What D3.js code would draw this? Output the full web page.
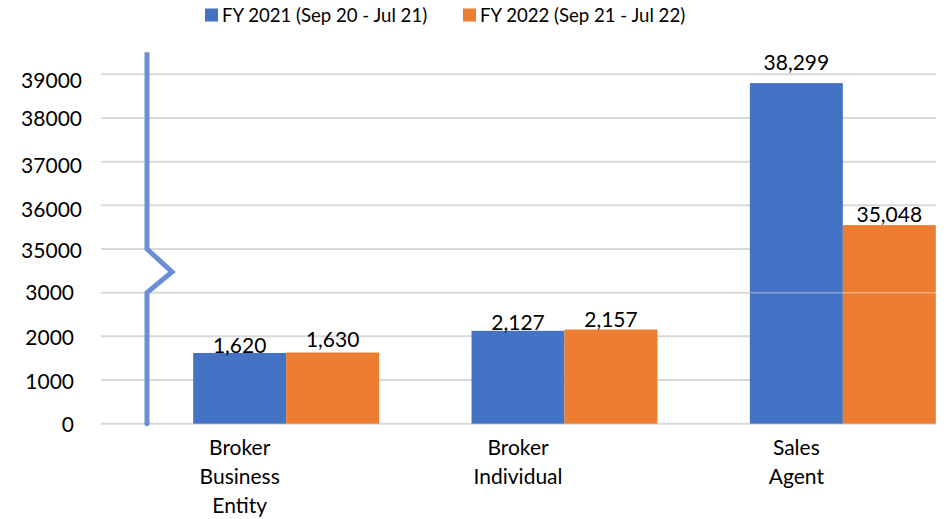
<!DOCTYPE html>
<html>
<head>
<meta charset="utf-8">
<script src="https://cdn.jsdelivr.net/npm/d3@7"></script>
<style>
  html, body { margin: 0; padding: 0; background: #fff; }
  svg { display: block; }
  text { font-family: Lato, "Open Sans", sans-serif; fill: #000; }
</style>
</head>
<body>
<svg id="chart" width="948" height="519"></svg>
<script>
// ---- data ----
const categories = ["Broker Business Entity", "Broker Individual", "Sales Agent"];
const categoryLines = [["Broker", "Business", "Entity"], ["Broker", "Individual"], ["Sales", "Agent"]];
const seriesNames = ["FY 2021 (Sep 20 - Jul 21)", "FY 2022 (Sep 21 - Jul 22)"];
const fy2021 = [1620, 2127, 38299];
const fy2022 = [1630, 2157, 35048];
const tickLabels = ["0", "1000", "2000", "3000", "35000", "36000", "37000", "38000", "39000"];
// broken axis: lower segment 0..3000, upper segment resumes above the break
const lowerMax = 3000;
const upperStart = 33500;
const upperMax = 39500;

// ---- layout ----
const colors = ["#4472C4", "#ED7D31"];
const svg = d3.select("#chart");
const yBase = 423.7, step = 43.67;
const gridX0 = 101, gridX1 = 936;
const axisX = 147;

const yIdx = d3.scaleLinear().domain([0, tickLabels.length - 1])
  .range([yBase, yBase - step * (tickLabels.length - 1)]);
const y = d3.scaleLinear()
  .domain([0, lowerMax, upperStart, upperMax])
  .range([yBase, yIdx(3), yIdx(3), yIdx(3) - (upperMax - upperStart) * step / 1000]);

const x0 = d3.scaleBand().domain(categories).range([147, 982])
  .paddingInner(0.332).paddingOuter(0.166);
const x1 = d3.scaleBand().domain([0, 1]).range([0, x0.bandwidth()]);

// gridlines
svg.append("g").selectAll("line").data(tickLabels).join("line")
  .attr("x1", gridX0).attr("x2", gridX1)
  .attr("y1", (d, i) => yIdx(i)).attr("y2", (d, i) => yIdx(i))
  .attr("stroke", "#d9d9d9").attr("stroke-width", 2);

// tick labels
const tickNudge = [1, 1, 1, 0, 1, 4, 4, 0, 6];
svg.append("g").selectAll("text").data(tickLabels).join("text")
  .attr("x", (d, i) => i >= 4 ? 82 : 74)
  .attr("y", (d, i) => yIdx(i) + tickNudge[i])
  .attr("dy", "0.36em")
  .attr("text-anchor", "end")
  .attr("font-size", 21)
  .text(d => d);

// bars
const rows = categories.map((c, i) => ({ c, vals: [fy2021[i], fy2022[i]] }));
const labelLift = { "0|0": 0, "0|1": 1, "0|2": 13, "1|0": 6, "1|1": 3, "1|2": 3 };
const g = svg.append("g");
rows.forEach(r => {
  r.vals.forEach((v, s) => {
    const bx = x0(r.c) + x1(s);
    g.append("rect")
      .attr("x", bx).attr("y", y(v))
      .attr("width", x1.bandwidth()).attr("height", y(0) - y(v))
      .attr("fill", colors[s]);
    if (v > lowerMax) {
      g.append("line")
        .attr("x1", bx).attr("x2", bx + x1.bandwidth())
        .attr("y1", y(lowerMax)).attr("y2", y(lowerMax))
        .attr("stroke", "rgba(255,255,255,0.35)").attr("stroke-width", 1.5);
    }
  });
});
rows.forEach((r, ci) => {
  r.vals.forEach((v, s) => {
    g.append("text")
      .attr("x", x0(r.c) + x1(s) + x1.bandwidth() / 2)
      .attr("y", y(v) - (labelLift[s + "|" + ci] || 0))
      .attr("text-anchor", "middle")
      .attr("font-size", 21)
      .text(d3.format(",")(v));
  });
});

// axis line with break symbol
const brk = [
  [axisX, yIdx(8) - 22],
  [axisX, yIdx(4)],
  [axisX + 25, (yIdx(4) + yIdx(3)) / 2 + 1],
  [axisX, yIdx(3)],
  [axisX, yIdx(0)]
];
svg.append("path")
  .attr("d", d3.line()(brk))
  .attr("fill", "none")
  .attr("stroke", "#6B8FD4")
  .attr("stroke-width", 5)
  .attr("stroke-linejoin", "miter");
svg.append("circle").attr("cx", axisX).attr("cy", yIdx(0)).attr("r", 2.5).attr("fill", "#6B8FD4");

// category labels (centered under first bar of each group)
categoryLines.forEach((lines, i) => {
  const cx = x0(categories[i]) + x1.bandwidth() / 2;
  const t = svg.append("text").attr("text-anchor", "middle").attr("font-size", 21);
  lines.forEach((ln, j) => {
    t.append("tspan").attr("x", cx).attr("y", 455 + j * 29).text(ln);
  });
});

// legend
const legendX = [205, 463];
seriesNames.forEach((n, i) => {
  svg.append("rect").attr("x", legendX[i]).attr("y", 8.5).attr("width", 13).attr("height", 13).attr("fill", colors[i]);
  svg.append("text").attr("x", legendX[i] + 17).attr("y", 21.5).attr("font-size", 18.6).text(n);
});
</script>
</body>
</html>
